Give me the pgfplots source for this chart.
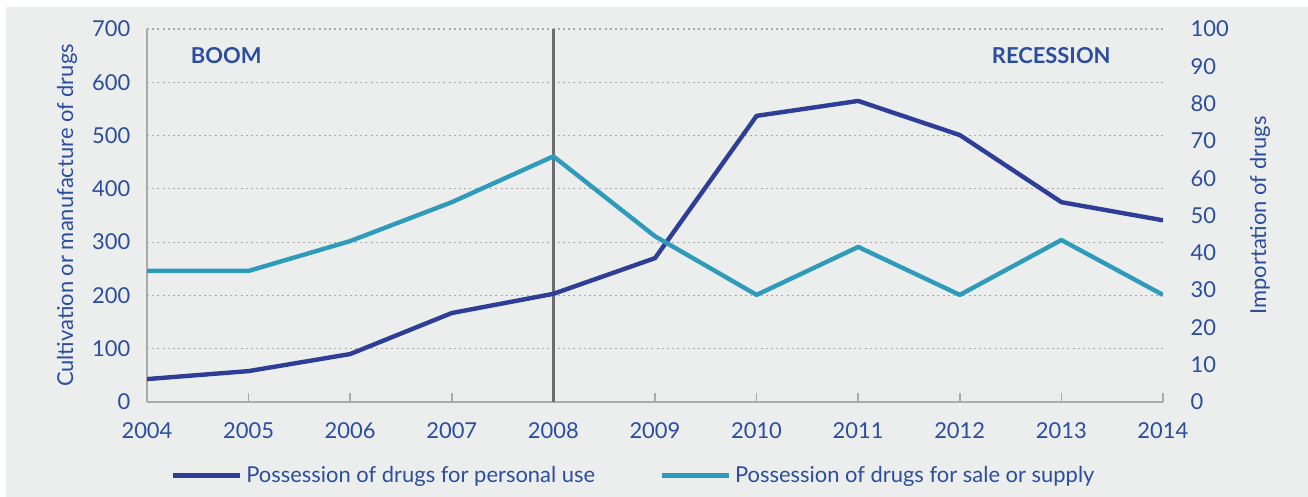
\documentclass[border=0pt]{standalone}
\usepackage{pgfplots}
\pgfplotsset{compat=1.18}
\usepackage{fontspec}
\setmainfont{Lato}[Scale=1.1]
\definecolor{bg}{HTML}{ECEEEE}
\definecolor{dblue}{HTML}{2E3E97}
\definecolor{tealc}{HTML}{2F9BBB}
\definecolor{txt}{HTML}{2A4D9E}
\definecolor{gridc}{HTML}{A8A8A8}
\definecolor{axc}{HTML}{ABABAB}
\definecolor{vline}{HTML}{6D6E70}
\begin{document}
\begin{tikzpicture}
\useasboundingbox (-73.5bp,-47.5bp) rectangle (580.5bp,201bp);
\fill[white] (-73.5bp,-47.5bp) rectangle (580.5bp,201bp);
\fill[bg] (-70.5bp,-47.5bp) rectangle (580.5bp,197.5bp);
\begin{axis}[
  scale only axis, width=508bp, height=186.5bp,
  xmin=2004, xmax=2014, ymin=0, ymax=700,
  axis x line*=bottom, axis y line*=left,
  axis line style={draw=axc, line width=1bp},
  xtick={2004,...,2014},
  ytick={0,100,...,700},
  x tick label style={/pgf/number format/1000 sep={}, text=txt, yshift=-6.5bp},
  y tick label style={text=txt, xshift=-4.5bp},
  /pgf/number format/assume math mode=true,
  ymajorgrids,
  grid style={draw=gridc, line width=0.6bp, dash pattern=on 1bp off 1.6bp},
  xtick style={draw=axc, line width=0.8bp},
  ytick style={draw=none},
  tick align=inside,
  major tick length=4.5bp,
  ylabel={Cultivation or manufacture of drugs},
  ylabel style={text=txt},
  legend columns=2,
  legend style={draw=none, fill=none, inner sep=0pt, at={(0.0226,-0.198)}, anchor=west,
    text=txt, /tikz/every even column/.append style={column sep=30bp}},
  legend image code/.code={\draw[#1, line width=2.5bp] (0bp,0bp) -- (33.5bp,0bp);},
]
\addplot[vline, line width=1.1bp, forget plot] coordinates {(2008,0) (2008,700)};
\addplot[dblue, line width=2.2bp, line join=round] coordinates {
(2004,43) (2005,58) (2006,90) (2007,167) (2008,203) (2009,270) (2010,537) (2011,565) (2012,501) (2013,375) (2014,341)};
\addlegendentry{Possession of drugs for personal use}
\addplot[tealc, line width=2.2bp, line join=round] coordinates {
(2004,246) (2005,246) (2006,302) (2007,375) (2008,461) (2009,311) (2010,201) (2011,291) (2012,201) (2013,304) (2014,201)};
\addlegendentry{Possession of drugs for sale or supply}
\node[font=\bfseries, text=txt] at (axis cs:2004.78,651) {BOOM};
\node[font=\bfseries, text=txt] at (axis cs:2012.90,651) {RECESSION};
\end{axis}
\begin{axis}[
  scale only axis, width=508bp, height=186.5bp,
  xmin=2004, xmax=2014, ymin=0, ymax=100,
  axis x line=none, axis y line*=right,
  y axis line style={draw=none},
  ytick={0,10,...,100},
  ytick style={draw=none},
  major tick length=0pt,
  y tick label style={text=txt, xshift=10bp},
  /pgf/number format/assume math mode=true,
  ylabel={Importation of drugs},
  ylabel style={text=txt, yshift=-3bp},
]
\end{axis}
\end{tikzpicture}
\end{document}
